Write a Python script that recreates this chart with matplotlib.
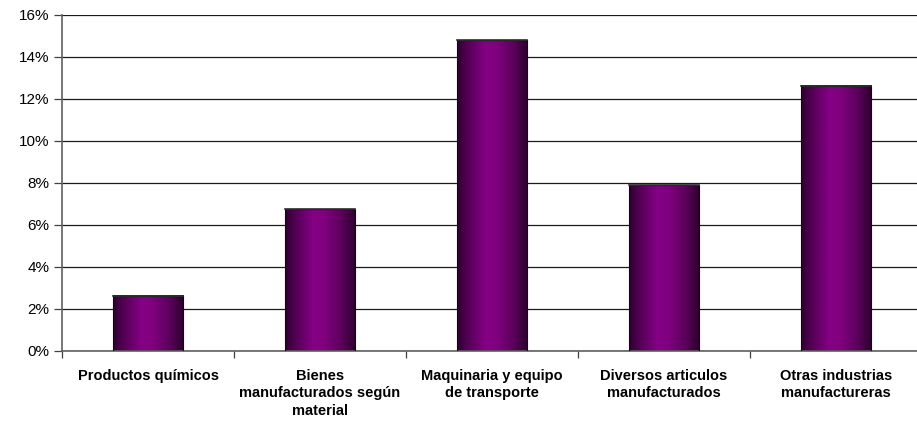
import numpy as np
import matplotlib
matplotlib.use("Agg")
import matplotlib.pyplot as plt
from matplotlib.colors import LinearSegmentedColormap
from matplotlib.ticker import FuncFormatter, FixedLocator

categories = ["Productos químicos", "Bienes\nmanufacturados según\nmaterial",
              "Maquinaria y equipo\nde transporte", "Diversos articulos\nmanufacturados",
              "Otras industrias\nmanufactureras"]
values = [2.62, 6.76, 14.8, 7.9, 12.62]
yticks = [0, 2, 4, 6, 8, 10, 12, 14, 16]

W, H = 917, 422
fig = plt.figure(figsize=(W / 100, H / 100), dpi=100)
ax = fig.add_axes([62 / W, (H - 351) / H, (922 - 62) / W, (351 - 15) / H])

x = np.arange(len(values))
bw = 0.41

cmap = LinearSegmentedColormap.from_list("g", [
    (0.0, "#2c002e"), (0.12, "#4e004f"), (0.4, "#850085"), (0.55, "#800080"),
    (0.8, "#5c005c"), (0.93, "#3c003c"), (1.0, "#2a002a")])
grad = np.linspace(0, 1, 256).reshape(1, -1)

ax.yaxis.grid(True, color="#1a1a1a", linewidth=0.9, zorder=0)
ax.set_axisbelow(True)

for xi, v in zip(x, values):
    ax.imshow(grad, cmap=cmap, aspect="auto", extent=(xi - bw / 2, xi + bw / 2, 0, v),
              zorder=2, interpolation="bilinear")
    ax.bar(xi, v, width=bw, facecolor="none", edgecolor="#1a001a", linewidth=0.8, zorder=3)
    ax.plot([xi - bw / 2, xi + bw / 2], [v, v], color="#303030", linewidth=1.2, zorder=4)

ax.set_xlim(-0.5, len(values) - 0.5)
ax.set_ylim(0, 16)

ax.set_yticks(yticks)
ax.yaxis.set_major_formatter(FuncFormatter(lambda v, p: f"{int(v)}%"))
ax.set_xticks(x)
ax.set_xticklabels(categories, fontfamily="Liberation Sans", fontweight="bold", fontsize=10.5,
                   linespacing=1.3)
ax.xaxis.set_minor_locator(FixedLocator(np.arange(-0.5, len(values), 1.0)))
ax.tick_params(axis="x", which="major", length=0, pad=13)
ax.tick_params(axis="x", which="minor", length=5, width=0.9, color="#404040", direction="out")
ax.tick_params(axis="y", length=6, width=0.9, color="#404040", direction="out",
               labelsize=11, pad=3)
for lab in ax.get_yticklabels():
    lab.set_fontfamily("Liberation Sans")

for s in ["top", "right"]:
    ax.spines[s].set_visible(False)
ax.spines["left"].set_color("#606060")
ax.spines["left"].set_linewidth(1.2)
ax.spines["bottom"].set_color("#606060")
ax.spines["bottom"].set_linewidth(1.2)

fig.savefig("out.png", dpi=100)
